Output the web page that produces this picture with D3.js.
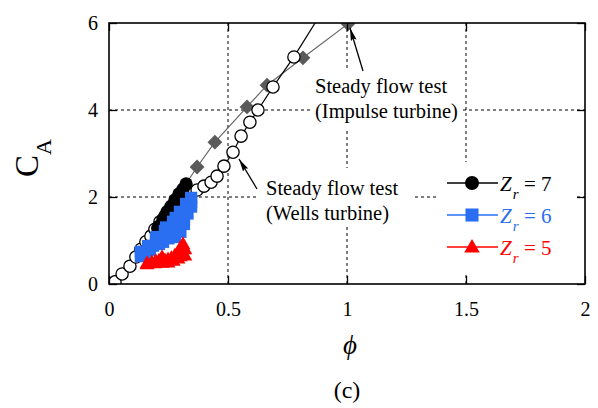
<!DOCTYPE html>
<html><head><meta charset="utf-8">
<script src="https://cdn.jsdelivr.net/npm/d3@7"></script>
<style>body{margin:0;background:#fff}svg{display:block}text{font-family:"Liberation Serif","Times New Roman",serif}</style>
</head><body><svg id="c" width="598" height="408"></svg>
<script>
// ---- data ----
const xTicks = [0, 0.5, 1, 1.5, 2];
const yTicks = [0, 2, 4, 6];
const wellsPhi = [0.025,0.055,0.088,0.113,0.134,0.155,0.176,0.193,0.214,0.235,0.256,0.277,0.307,0.340,0.370,0.399,0.429,0.454,0.483,0.521,0.555,0.592,0.626,0.689,0.777,0.900];
const wellsCA  = [0.05,0.23,0.41,0.62,0.80,0.97,1.10,1.26,1.43,1.56,1.72,1.86,1.98,2.05,2.16,2.25,2.34,2.48,2.71,3.03,3.40,3.72,4.00,4.53,5.22,6.30];
const impulsePhi = [0.248,0.307,0.370,0.445,0.580,0.664,0.815,1.004];
const impulseCA  = [1.68,2.16,2.69,3.26,4.07,4.57,5.20,5.98];
const z7Phi = [0.205,0.210,0.227,0.244,0.261,0.277,0.294,0.311,0.324,0.303,0.286,0.265,0.244,0.223];
const z7CA  = [1.28,1.33,1.49,1.66,1.79,1.93,2.07,2.18,2.30,1.95,1.79,1.61,1.45,1.31];
const z6Phi = [0.134,0.164,0.197,0.235,0.269,0.298,0.324,0.345,0.345,0.345,0.315,0.315,0.315,0.300,0.277,0.227,0.172,0.134,0.150,0.185,0.210,0.250,0.260,0.290,0.300,0.330,0.325,0.280,0.240,0.200];
const z6CA  = [0.74,0.87,1.03,1.22,1.43,1.66,1.84,1.98,1.88,1.78,1.62,1.50,1.38,1.20,1.08,0.97,0.78,0.64,0.70,0.88,0.92,1.05,1.18,1.22,1.42,1.62,1.75,1.52,1.30,1.08];
const z5Phi = [0.160,0.197,0.223,0.248,0.277,0.298,0.311,0.319,0.319,0.290,0.248,0.193,0.160,0.180,0.210,0.235,0.262,0.290,0.305,0.300,0.270,0.225];
const z5CA  = [0.46,0.51,0.60,0.55,0.64,0.80,0.90,0.78,0.64,0.57,0.48,0.46,0.44,0.48,0.52,0.53,0.58,0.68,0.74,0.62,0.52,0.47];
const legendNames = ["7", "6", "5"];
const annoImpulse = ["Steady flow test", "(Impulse turbine)"];
const annoWells = ["Steady flow test", "(Wells turbine)"];

// ---- setup ----
const W = 598, H = 408;
const L = 109, R = 585, T = 23, B = 284;
const x = d3.scaleLinear().domain([0, 2]).range([L, R]);
const y = d3.scaleLinear().domain([0, 6]).range([B, T]);
const zip = (a, b) => a.map((v, i) => [v, b[i]]);
const svg = d3.select('#c');
svg.append('rect').attr('width', W).attr('height', H).attr('fill', '#fff');

const defs = svg.append('defs');
defs.append('clipPath').attr('id', 'clip').append('rect')
  .attr('x', L).attr('y', T).attr('width', R - L).attr('height', B - T);
defs.append('marker').attr('id', 'arr').attr('viewBox', '0 0 13 6')
  .attr('refX', 13).attr('refY', 3).attr('markerWidth', 13).attr('markerHeight', 6)
  .attr('markerUnits', 'userSpaceOnUse').attr('orient', 'auto')
  .append('path').attr('d', 'M0,0 L13,3 L0,6 L2,3 Z').attr('fill', '#000');

// grid
const grid = svg.append('g').attr('stroke', '#000').attr('stroke-width', 1).attr('stroke-dasharray', '3,3');
grid.selectAll('line.v').data(xTicks.slice(1, -1)).join('line').attr('class', 'v')
  .attr('x1', d => x(d)).attr('x2', d => x(d)).attr('y1', B).attr('y2', T);
grid.selectAll('line.h').data(yTicks.slice(1, -1)).join('line').attr('class', 'h')
  .attr('y1', d => y(d)).attr('y2', d => y(d)).attr('x1', L).attr('x2', R);

// annotation backgrounds
svg.append('rect').attr('x', 312).attr('y', 70).attr('width', 149).attr('height', 61).attr('fill', '#fff');
svg.append('rect').attr('x', 258).attr('y', 168).attr('width', 156).attr('height', 56).attr('fill', '#fff');

// data
const plot = svg.append('g').attr('clip-path', 'url(#clip)');
const line = d3.line().x(d => x(d[0])).y(d => y(d[1]));
const inDomain = d => d[0] <= 2 && d[1] <= 6;

function series(pts, lineColor, sym, size, fill, stroke, rot) {
  plot.append('path').datum(pts).attr('d', line).attr('fill', 'none')
    .attr('stroke', lineColor).attr('stroke-width', 1.2);
  plot.append('g').selectAll('path').data(pts.filter(inDomain)).join('path')
    .attr('d', d3.symbol(sym, size))
    .attr('transform', d => `translate(${x(d[0])},${y(d[1])}) rotate(${rot || 0})`)
    .attr('fill', fill).attr('stroke', stroke).attr('stroke-width', stroke === 'none' ? 0 : 1.3);
}
series(zip(impulsePhi, impulseCA), '#666', d3.symbolSquare, 110, '#5a5a5a', 'none', 45);
series(zip(wellsPhi, wellsCA), '#000', d3.symbolCircle, 118, '#fff', '#000');
series(zip(z7Phi, z7CA), '#000', d3.symbolCircle, 140, '#000', 'none');
series(zip(z6Phi, z6CA), '#2a6ef2', d3.symbolSquare, 150, '#2a6ef2', 'none');
series(zip(z5Phi, z5CA), '#ff0000', d3.symbolTriangle, 95, '#ff0000', 'none');

// annotations
function anno(lines, x0, y0) {
  const t = svg.append('text').attr('font-size', 20.5).attr('fill', '#000');
  lines.forEach((s, i) => t.append('tspan').attr('x', x0).attr('y', y0 + i * 25).text(s));
}
anno(annoImpulse, 315, 93);
anno(annoWells, 266, 195);
svg.append('line').attr('x1', 363).attr('y1', 71).attr('x2', 350).attr('y2', 28)
  .attr('stroke', '#000').attr('stroke-width', 1.3).attr('marker-end', 'url(#arr)');
svg.append('line').attr('x1', 257).attr('y1', 189).attr('x2', 239).attr('y2', 159)
  .attr('stroke', '#000').attr('stroke-width', 1.3).attr('marker-end', 'url(#arr)');

// legend
const lg = svg.append('g');
lg.append('rect').attr('x', 437).attr('y', 162).attr('width', 139).attr('height', 113).attr('fill', '#fff');
const legendItems = [
  {name: legendNames[0], color: '#000', sym: d3.symbolCircle, size: 154},
  {name: legendNames[1], color: '#2a6ef2', sym: d3.symbolSquare, size: 170},
  {name: legendNames[2], color: '#ff0000', sym: d3.symbolTriangle, size: 105}
];
const ly = d3.scalePoint().domain(legendNames).range([183, 247]);
legendItems.forEach(it => {
  const yy = ly(it.name);
  lg.append('line').attr('x1', 447).attr('x2', 498).attr('y1', yy).attr('y2', yy)
    .attr('stroke', it.color).attr('stroke-width', 1.3);
  lg.append('path').attr('d', d3.symbol(it.sym, it.size))
    .attr('transform', `translate(472,${yy + (it.sym === d3.symbolTriangle ? 1 : 0)})`).attr('fill', it.color);
  const t = lg.append('text').attr('font-size', 21).attr('fill', it.color).attr('y', yy + 8);
  t.append('tspan').attr('x', 500).attr('font-style', 'italic').text('Z');
  t.append('tspan').attr('font-style', 'italic').attr('font-size', 15).attr('dx', 1).attr('dy', 8).text('r');
  t.append('tspan').attr('x', 524).attr('dy', -8).text('= ' + it.name);
});

// frame & axes
svg.append('rect').attr('x', L).attr('y', T).attr('width', R - L).attr('height', B - T)
  .attr('fill', 'none').attr('stroke', '#000').attr('stroke-width', 1.6);
function styleAxis(g, labels) {
  g.select('.domain').remove();
  g.selectAll('.tick line').attr('stroke', '#000').attr('stroke-width', 1.3);
  g.selectAll('.tick text').attr('font-size', 20).attr('fill', '#000')
    .attr('font-family', '"Liberation Serif","Times New Roman",serif');
  if (!labels) g.selectAll('.tick text').remove();
}
svg.append('g').attr('transform', `translate(0,${B})`)
  .call(d3.axisBottom(x).tickValues(xTicks).tickFormat(d3.format('')).tickSizeInner(-8).tickSizeOuter(0).tickPadding(18))
  .call(g => styleAxis(g, true));
svg.append('g').attr('transform', `translate(0,${T})`)
  .call(d3.axisTop(x).tickValues(xTicks).tickSizeInner(-8).tickSizeOuter(0))
  .call(g => styleAxis(g, false));
svg.append('g').attr('transform', `translate(${L},0)`)
  .call(d3.axisLeft(y).tickValues(yTicks).tickFormat(d3.format('d')).tickSizeInner(-8).tickSizeOuter(0).tickPadding(11))
  .call(g => styleAxis(g, true));
svg.append('g').attr('transform', `translate(${R},0)`)
  .call(d3.axisRight(y).tickValues(yTicks).tickSizeInner(-8).tickSizeOuter(0))
  .call(g => styleAxis(g, false));

// titles
svg.append('text').attr('x', 350).attr('y', 354).attr('text-anchor', 'middle')
  .attr('font-size', 27).attr('font-style', 'italic').text('ϕ');
svg.append('text').attr('x', 347).attr('y', 398).attr('text-anchor', 'middle')
  .attr('font-size', 24).text('(c)');
const yt = svg.append('text').attr('transform', 'translate(38,177) rotate(-90)').attr('font-size', 33).attr('text-anchor', 'start');
yt.append('tspan').text('C');
yt.append('tspan').attr('font-size', 22).attr('dy', 13).text('A');
</script></body></html>
